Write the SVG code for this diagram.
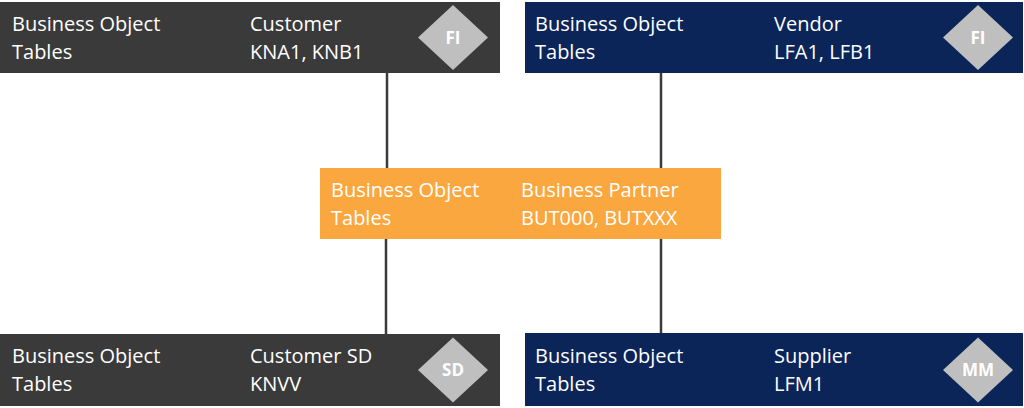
<svg xmlns="http://www.w3.org/2000/svg" width="1024" height="408" viewBox="0 0 1024 408">
<style>
.dark{fill:#3a3a3a}
.navy{fill:#0b2559}
.orange{fill:#f9a73e}
.t{font-family:"Open Sans","Liberation Sans",sans-serif;font-size:20px;fill:#ffffff}
.dia{fill:#bfbfbf}
.d{font-family:"Open Sans","Liberation Sans",sans-serif;font-size:17px;font-weight:bold;fill:#ffffff;text-anchor:middle}
.c{stroke:#3a3a3a;stroke-width:2.5;fill:none}
</style>
<rect width="1024" height="408" fill="#ffffff"/>
<g id="connectors">
<line class="c" x1="387" y1="73" x2="387" y2="168"/>
<line class="c" x1="661" y1="73" x2="661" y2="168"/>
<line class="c" x1="386" y1="239" x2="386" y2="334"/>
<line class="c" x1="661" y1="239" x2="661" y2="334"/>
</g>
<g id="customer">
<rect class="dark" x="0" y="2" width="500" height="71"/>
<text class="t" x="12" y="31">Business Object</text>
<text class="t" x="12" y="59">Tables</text>
<text class="t" x="250" y="31">Customer</text>
<text class="t" x="250" y="59">KNA1, KNB1</text>
<polygon class="dia" points="453,5 488,37.5 453,70 418,37.5"/>
<text class="d" x="453" y="43.5">FI</text>
</g>
<g id="vendor">
<rect class="navy" x="525" y="2" width="498" height="71"/>
<text class="t" x="535" y="31">Business Object</text>
<text class="t" x="535" y="59">Tables</text>
<text class="t" x="774" y="31">Vendor</text>
<text class="t" x="774" y="59">LFA1, LFB1</text>
<polygon class="dia" points="978,5 1013,37.5 978,70 943,37.5"/>
<text class="d" x="978" y="43.5">FI</text>
</g>
<g id="business-partner">
<rect class="orange" x="320" y="168" width="401" height="71"/>
<text class="t" x="331" y="197">Business Object</text>
<text class="t" x="331" y="225">Tables</text>
<text class="t" x="521" y="197">Business Partner</text>
<text class="t" x="521" y="225">BUT000, BUTXXX</text>
</g>
<g id="customer-sd">
<rect class="dark" x="0" y="334" width="500" height="72"/>
<text class="t" x="12" y="363">Business Object</text>
<text class="t" x="12" y="391">Tables</text>
<text class="t" x="250" y="363">Customer SD</text>
<text class="t" x="250" y="391">KNVV</text>
<polygon class="dia" points="453,337.5 488,370 453,402.5 418,370"/>
<text class="d" x="453" y="376">SD</text>
</g>
<g id="supplier">
<rect class="navy" x="525" y="333" width="498" height="73"/>
<text class="t" x="535" y="363">Business Object</text>
<text class="t" x="535" y="391">Tables</text>
<text class="t" x="774" y="363">Supplier</text>
<text class="t" x="774" y="391">LFM1</text>
<polygon class="dia" points="978,337.5 1013,370 978,402.5 943,370"/>
<text class="d" x="978" y="376">MM</text>
</g>
</svg>
